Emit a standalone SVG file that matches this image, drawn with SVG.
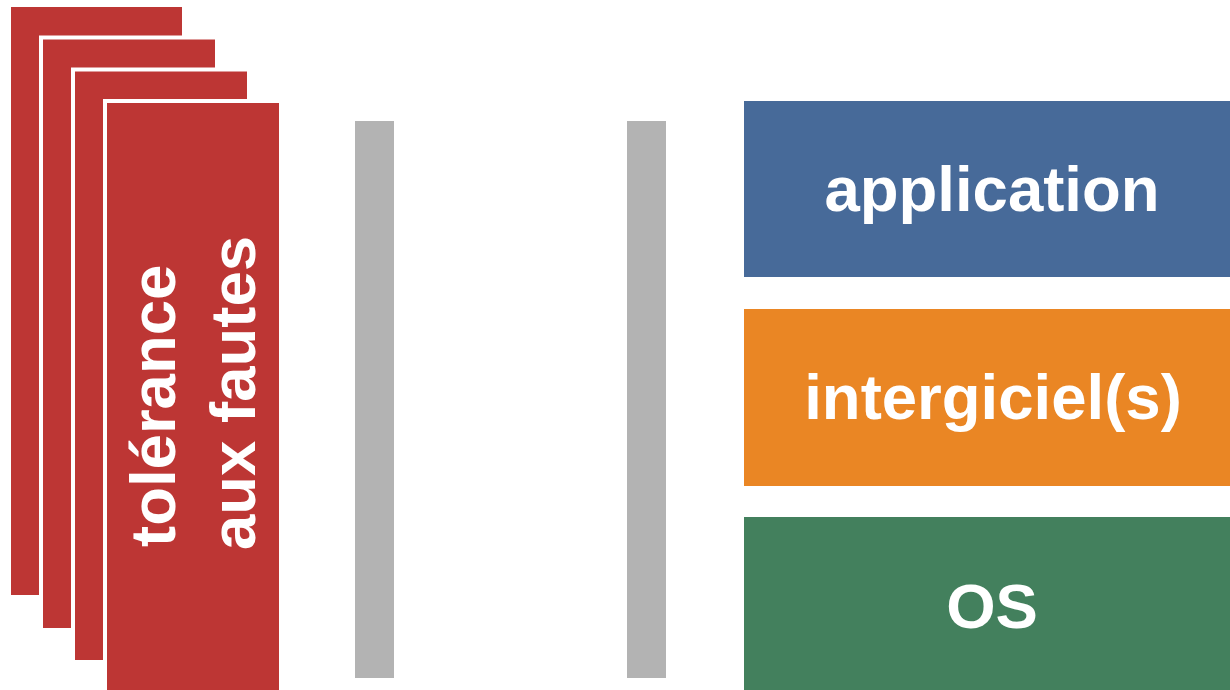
<svg xmlns="http://www.w3.org/2000/svg" width="1230" height="690" viewBox="0 0 1230 690">
<style>
.card{fill:#BD3634;stroke:#FFFFFF;stroke-width:4}
.bar{fill:#B3B3B3}
.lbl{font-family:"Liberation Sans",Arial,sans-serif;font-weight:bold;font-size:63.5px;fill:#FFFFFF}
</style>
<rect width="1230" height="690" fill="#FFFFFF"/>
<g id="cards">
<rect class="card" x="9" y="5" width="175" height="592"/>
<rect class="card" x="41" y="37.5" width="176" height="592.5"/>
<rect class="card" x="73" y="69.5" width="176" height="592.5"/>
<rect class="card" x="105" y="101" width="176" height="592"/>
<text class="lbl" transform="rotate(-90)" x="-547" y="175">tolérance</text>
<text class="lbl" transform="rotate(-90)" x="-550" y="255">aux fautes</text>
</g>
<g id="bar1"><rect class="bar" x="355" y="121" width="39" height="557"/></g>
<g id="bar2"><rect class="bar" x="627" y="121" width="39" height="557"/></g>
<g id="application">
<rect x="744" y="101" width="486" height="176" fill="#476A99"/>
<text class="lbl" x="992" y="211" text-anchor="middle">application</text>
</g>
<g id="intergiciel">
<rect x="744" y="309" width="486" height="177" fill="#EA8624"/>
<text class="lbl" x="993" y="419" text-anchor="middle">intergiciel(s)</text>
</g>
<g id="os">
<rect x="744" y="517" width="486" height="173" fill="#43805D"/>
<text class="lbl" x="992" y="628" text-anchor="middle">OS</text>
</g>
<g id="connectors"/>
</svg>
